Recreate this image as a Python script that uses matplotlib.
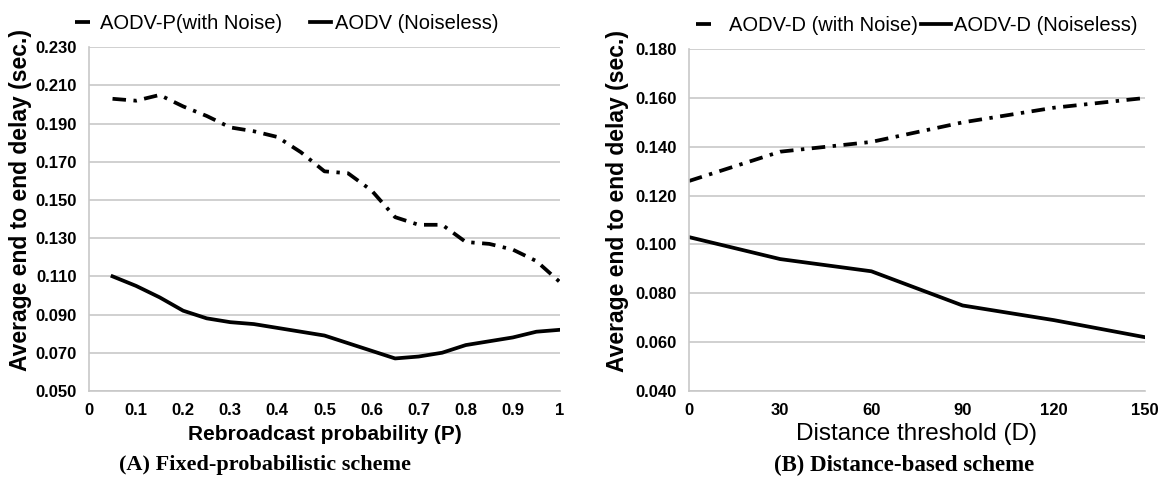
import numpy as np
import matplotlib
matplotlib.use('Agg')
import matplotlib.pyplot as plot
from matplotlib.lines import Line2D

# fixed-probabilistic scheme
prob = [0.05, 0.1, 0.15, 0.2, 0.25, 0.3, 0.35, 0.4, 0.45, 0.5,
        0.55, 0.6, 0.65, 0.7, 0.75, 0.8, 0.85, 0.9, 0.95, 1.0]
aodvp_noise = [0.203, 0.202, 0.205, 0.199, 0.194, 0.188, 0.186, 0.183, 0.175, 0.165,
               0.164, 0.155, 0.141, 0.137, 0.137, 0.128, 0.127, 0.124, 0.118, 0.107]
aodv_clean = [0.110, 0.105, 0.099, 0.092, 0.088, 0.086, 0.085, 0.083, 0.081, 0.079,
              0.075, 0.071, 0.067, 0.068, 0.070, 0.074, 0.076, 0.078, 0.081, 0.082]

# distance-based scheme
dist = [0, 30, 60, 90, 120, 150]
aodvd_noise = [0.126, 0.138, 0.142, 0.150, 0.156, 0.160]
aodvd_clean = [0.103, 0.094, 0.089, 0.075, 0.069, 0.062]

plot.rcParams['font.family'] = ['Liberation Sans', 'DejaVu Sans']

dashdot = (3.6, 2.0, 0.9, 2.0)
lw = 2.7
grid_col = '#c8c8c8'

fig = plot.figure(figsize=(11.6, 4.82), dpi=100)


def setup(ax, ylim, yticks, xlim, xticks, xlabels, xlabel, xweight, xsize, ylab_x, xlab_y):
    ax.set_xlim(xlim)
    ax.set_ylim(ylim)
    ax.set_yticks(yticks)
    ax.set_yticklabels(['%.3f' % v for v in yticks], fontsize=12, fontweight='bold')
    ax.set_xticks(xticks)
    ax.set_xticklabels(xlabels, fontsize=12, fontweight='bold')
    ax.yaxis.grid(True, color=grid_col, linewidth=1.2)
    ax.set_axisbelow(True)
    for s in ['top', 'right']:
        ax.spines[s].set_visible(False)
    for s in ['left', 'bottom']:
        ax.spines[s].set_color(grid_col)
        ax.spines[s].set_linewidth(1.2)
    ax.tick_params(length=0, pad=9)
    ax.set_ylabel('Average end to end delay (sec.)', fontsize=16.5, fontweight='bold')
    ax.yaxis.set_label_coords(ylab_x, 0.555)
    ax.set_xlabel(xlabel, fontsize=xsize, fontweight=xweight)
    ax.xaxis.set_label_coords(0.5, xlab_y)


# legend handles look like one short dash for the noisy series
h_noise = Line2D([], [], color='black', lw=lw, dashes=(4, 20))
h_clean = Line2D([], [], color='black', lw=lw)

ax1 = fig.add_axes([0.0767, 0.189, 0.406, 0.713])
ax1.plot(prob, aodvp_noise, color='black', lw=lw, dashes=dashdot)
ax1.plot(prob, aodv_clean, color='black', lw=lw)
setup(ax1, (0.05, 0.23), np.arange(0.05, 0.2301, 0.02), (0, 1),
      np.arange(0, 1.01, 0.1), ['0'] + ['%.1f' % v for v in np.arange(0.1, 0.95, 0.1)] + ['1'],
      'Rebroadcast probability (P)', 'bold', 15, -0.122, -0.1)
ax1.legend([h_noise, h_clean], ['AODV-P(with Noise)', 'AODV (Noiseless)'], loc='center',
           bbox_to_anchor=(0.42, 1.068), ncol=2, frameon=False, fontsize=14.5,
           handlelength=1.05, handletextpad=0.2, columnspacing=1.4)

ax2 = fig.add_axes([0.594, 0.189, 0.393, 0.709])
ax2.plot(dist, aodvd_noise, color='black', lw=lw, dashes=dashdot)
ax2.plot(dist, aodvd_clean, color='black', lw=lw)
setup(ax2, (0.04, 0.18), np.arange(0.04, 0.1801, 0.02), (0, 150),
      [0, 30, 60, 90, 120, 150], ['0', '30', '60', '90', '120', '150'],
      'Distance threshold (D)', 'normal', 17.5, -0.132, -0.094)
ax2.legend([h_noise, h_clean], ['AODV-D (with Noise)', 'AODV-D (Noiseless)'], loc='center',
           bbox_to_anchor=(0.50, 1.07), ncol=2, frameon=False, fontsize=14.5,
           handlelength=1.5, handletextpad=0.15, columnspacing=0.15)

fig.text(0.2285, 0.035, '(A) Fixed-probabilistic scheme', ha='center', va='center',
         family='Liberation Serif', fontsize=16, fontweight='bold')
fig.text(0.779, 0.035, '(B) Distance-based scheme', ha='center', va='center',
         family='Liberation Serif', fontsize=16.5, fontweight='bold')

plot.savefig('out.png', dpi=100)
plot.close()
